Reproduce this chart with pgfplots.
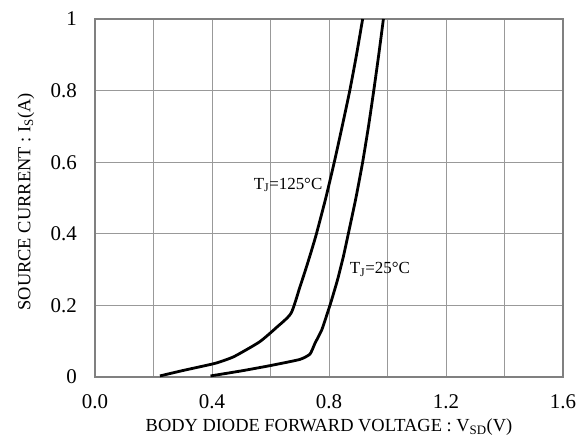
\documentclass[border=0pt]{standalone}
\usepackage{pgfplots}
\pgfplotsset{compat=1.18}
\usepackage{fontspec}
\setmainfont{Liberation Serif}
\begin{document}
\begin{tikzpicture}[x=1bp,y=1bp]
\path[use as bounding box] (-95,-61) rectangle (490,377);
\begin{axis}[at={(0,0)}, anchor=south west, scale only axis,
  width=468bp, height=358bp,
  xmin=0, xmax=1.6, ymin=0, ymax=1,
  xtick={0,0.4,0.8,1.2,1.6}, xticklabels={0.0,0.4,0.8,1.2,1.6},
  minor xtick={0.2,0.6,1.0,1.4},
  ytick={0,0.2,0.4,0.6,0.8,1}, yticklabels={0,0.2,0.4,0.6,0.8,1},
  grid=both,
  major grid style={draw=black!40, line width=1bp},
  minor grid style={draw=black!40, line width=1bp},
  axis line style={draw=black!50, line width=1.6bp},
  tick style={draw=none},
  ticklabel style={font=\fontsize{21}{21}\selectfont},
  xticklabel style={inner sep=0pt, anchor=north, yshift=-17bp},
  yticklabel style={inner sep=0pt, anchor=east, xshift=-18bp},
  xlabel={BODY DIODE FORWARD VOLTAGE : V\textsubscript{SD}(V)},
  ylabel={SOURCE CURRENT : I\textsubscript{S}(A)},
  label style={font=\fontsize{18.5}{18.5}\selectfont},
  xlabel style={at={(axis description cs:0.5,0)}, anchor=base, yshift=-55bp, inner sep=0pt},
  ylabel style={at={(axis description cs:-0.1474,0.489)}, anchor=center, inner sep=0pt},
  clip=false,
]
\addplot[black, line width=2.8bp, line join=round, smooth, tension=0.4] coordinates {
(0.222,0.003) (0.30,0.018) (0.40,0.036) (0.43,0.043) (0.47,0.055) (0.50,0.068)
(0.564,0.099) (0.62,0.138) (0.670,0.178) (0.700,0.25) (0.720,0.30) (0.739,0.35)
(0.757,0.40) (0.789,0.50) (0.818,0.60) (0.845,0.70) (0.871,0.80) (0.894,0.90) (0.915,1.0)
};
\addplot[black, line width=2.8bp, line join=round, smooth, tension=0.3] coordinates {
(0.395,0.003) (0.50,0.017) (0.60,0.032) (0.70,0.049) (0.735,0.064)
(0.752,0.094) (0.775,0.131) (0.792,0.172) (0.807,0.21) (0.829,0.271) (0.849,0.336)
(0.866,0.40) (0.892,0.50) (0.915,0.60) (0.935,0.70) (0.953,0.80) (0.970,0.90) (0.986,1.0)
};
\node[font=\fontsize{17}{17}\selectfont] at (axis cs:0.66,0.536) {T\textsubscript{J}=125°C};
\node[font=\fontsize{17}{17}\selectfont] at (axis cs:0.974,0.30) {T\textsubscript{J}=25°C};
\end{axis}
\end{tikzpicture}
\end{document}
